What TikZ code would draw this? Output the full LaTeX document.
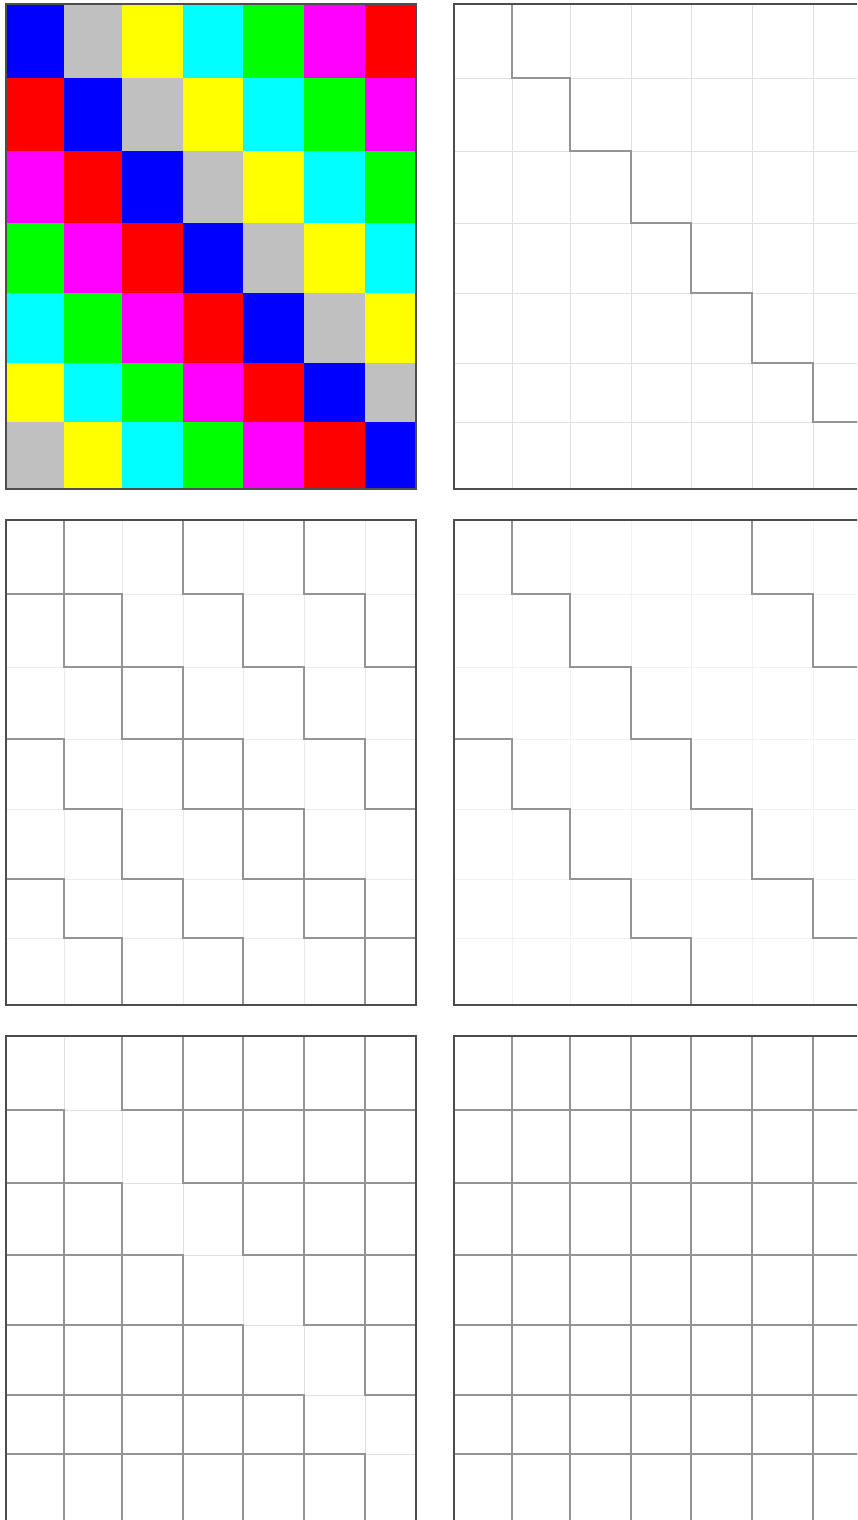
\documentclass[tikz,border=0pt]{standalone}
\usepackage{tikz}
\definecolor{frameC}{HTML}{4D4D4D}
\definecolor{darkC}{HTML}{949494}
\definecolor{lightA}{HTML}{E0E0E0}
\definecolor{lightB}{HTML}{EAEAEA}
\definecolor{lightC}{HTML}{F1F1F1}
\definecolor{cBlue}{RGB}{0,0,255}
\definecolor{cGray}{RGB}{192,192,192}
\definecolor{cYellow}{RGB}{255,255,0}
\definecolor{cCyan}{RGB}{0,255,255}
\definecolor{cGreen}{RGB}{0,255,0}
\definecolor{cMagenta}{RGB}{255,0,255}
\definecolor{cRed}{RGB}{255,0,0}
\tikzset{
  frameline/.style={draw=frameC,line width=1.7pt},
  darkline/.style={draw=darkC,line width=1.3pt,line cap=rect},
}
\def\colsX{{0,58,116,177,237,298,359,410}}
\def\rowsY{{0,74,147,219,289,359,418,485}}
% #1 x0, #2 y0, #3 K array, #4 light colour
\newcommand\gridpanel[4]{%
  \begin{scope}[shift={(#1,#2)}]
    \foreach \c in {1,...,6}{
      \pgfmathsetmacro\xc{\colsX[\c]}
      \draw[draw=#4,line width=1pt] (\xc,0) -- (\xc,485);
      \pgfmathsetmacro\yc{\rowsY[\c]}
      \draw[draw=#4,line width=1pt] (0,\yc) -- (410,\yc);
    }
    \foreach \i in {0,...,6}{
      \foreach \c in {1,...,6}{
        \pgfmathtruncatemacro\kk{mod(\c-\i+7,7)}
        \pgfmathtruncatemacro\isd{#3[\kk]}
        \ifnum\isd=1
          \pgfmathsetmacro\xc{\colsX[\c]}
          \pgfmathsetmacro\ya{\rowsY[\i]}
          \pgfmathsetmacro\yb{\rowsY[\i+1]}
          \draw[darkline] (\xc,\ya) -- (\xc,\yb);
        \fi
      }
    }
    \foreach \r in {1,...,6}{
      \foreach \j in {0,...,6}{
        \pgfmathtruncatemacro\kk{mod(\j-\r+8,7)}
        \pgfmathtruncatemacro\isd{#3[\kk]}
        \ifnum\isd=1
          \pgfmathsetmacro\xa{\colsX[\j]}
          \pgfmathsetmacro\xb{\colsX[\j+1]}
          \pgfmathsetmacro\yc{\rowsY[\r]}
          \draw[darkline] (\xa,\yc) -- (\xb,\yc);
        \fi
      }
    }
    \draw[frameline] (0,0) rectangle (410,485);
  \end{scope}}
\begin{document}
\begin{tikzpicture}[x=1pt,y=-1pt]
  \useasboundingbox (0,0) rectangle (857,1520);
  \clip (0,0) rectangle (857,1520);
  \fill[white] (0,0) rectangle (857,1520);
  % panel 1: coloured Latin square
  \begin{scope}[shift={(6,4)}]
    \foreach \i in {0,...,6}{
      \foreach \j in {0,...,6}{
        \pgfmathtruncatemacro\kk{mod(\j-\i+7,7)}
        \ifcase\kk \def\cc{cBlue}\or \def\cc{cGray}\or \def\cc{cYellow}\or
          \def\cc{cCyan}\or \def\cc{cGreen}\or \def\cc{cMagenta}\or \def\cc{cRed}\fi
        \pgfmathsetmacro\xa{\colsX[\j]}
        \pgfmathsetmacro\xb{\colsX[\j+1]}
        \pgfmathsetmacro\ya{\rowsY[\i]}
        \pgfmathsetmacro\yb{\rowsY[\i+1]}
        \fill[\cc] (\xa,\ya) rectangle (\xb,\yb);
      }
    }
    \draw[frameline] (0,0) rectangle (410,485);
  \end{scope}
  \gridpanel{454}{4}{{0,1,0,0,0,0,0}}{lightA}
  \gridpanel{6}{520}{{1,1,0,1,0,1,0}}{lightB}
  \gridpanel{454}{520}{{0,1,0,0,0,1,0}}{lightC}
  \gridpanel{6}{1036}{{1,0,1,1,1,1,1}}{lightA}
  \gridpanel{454}{1036}{{1,1,1,1,1,1,1}}{lightA}
\end{tikzpicture}
\end{document}
